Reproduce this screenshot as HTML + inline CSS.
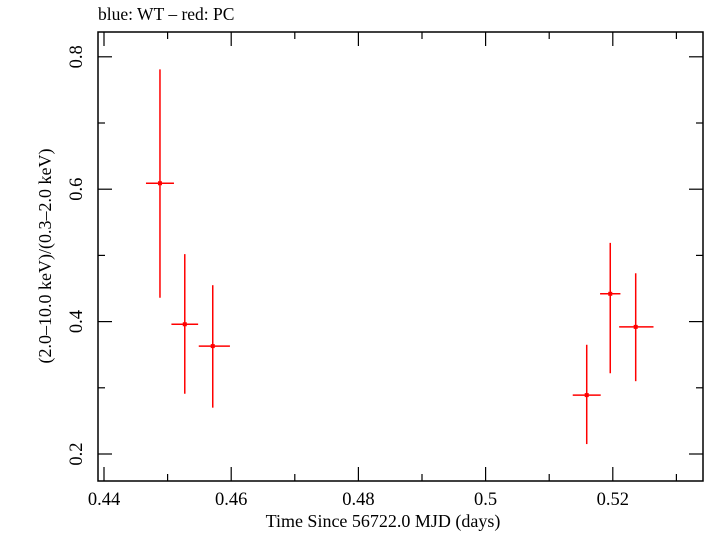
<!DOCTYPE html>
<html><head><meta charset="utf-8"><style>
html,body{margin:0;padding:0;background:#fff;}
svg text{font-family:"Liberation Serif",serif;fill:#000;}
</style></head><body>
<svg id="chart" width="705" height="532" xmlns="http://www.w3.org/2000/svg">
<text x="98" y="20" font-size="17.5">blue: WT – red: PC</text>
<rect x="98" y="32" width="605" height="449" fill="none" stroke="#000" stroke-width="1.5"/>
<g id="axes"></g>
<g id="marks"></g>
<text x="383" y="527" font-size="18" text-anchor="middle">Time Since 56722.0 MJD (days)</text>
<text transform="translate(51,256) rotate(-90)" font-size="18" text-anchor="middle">(2.0–10.0 keV)/(0.3–2.0 keV)</text>
</svg>
<script>
const times=[0.4488,0.4527,0.4571,0.5159,0.5196,0.5236];
const timeErrLo=[0.0022,0.0021,0.0022,0.0022,0.0016,0.0026];
const timeErrHi=[0.0022,0.0021,0.0027,0.0022,0.0016,0.0028];
const ratios=[0.609,0.396,0.363,0.289,0.442,0.392];
const ratioLo=[0.436,0.291,0.270,0.215,0.322,0.310];
const ratioHi=[0.781,0.502,0.455,0.365,0.519,0.473];
const xTicks=[0.44,0.46,0.48,0.5,0.52];
const xTickLabels=["0.44","0.46","0.48","0.5","0.52"];
const yTicks=[0.2,0.4,0.6,0.8];
const yTickLabels=["0.2","0.4","0.6","0.8"];
const X=v=>104+(v-0.44)*6360;
const Y=v=>454-(v-0.2)*662;
const NS="http://www.w3.org/2000/svg";
function mk(tag,attrs,parent){const e=document.createElementNS(NS,tag);for(const k in attrs)e.setAttribute(k,attrs[k]);parent.appendChild(e);return e;}
const ax=document.getElementById('axes'),mg=document.getElementById('marks');
const L=98,R=703,T=32,B=481;
for(let v=0.44;v<=0.5351;v+=0.01){const x=X(v);const major=xTicks.some(t=>Math.abs(t-v)<1e-6);const len=major?14:7;
 const t1=mk('line',{x1:x,x2:x,y1:B,y2:B-len,stroke:'#000','stroke-width':1.2},ax);
 
 
 const t2=mk('line',{x1:x,x2:x,y1:T,y2:T+len,stroke:'#000','stroke-width':1.2},ax);
 
 }
xTicks.forEach((v,i)=>{const t=mk('text',{x:X(v),y:505,'font-size':18.5,'text-anchor':'middle'},ax);t.textContent=xTickLabels[i];
 
 });
for(let v=0.2;v<=0.8501;v+=0.1){const y=Y(v);const major=yTicks.some(t=>Math.abs(t-v)<1e-6);const len=major?14:7;
 const t1=mk('line',{x1:L,x2:L+len,y1:y,y2:y,stroke:'#000','stroke-width':1.2},ax);
 
 
 const t2=mk('line',{x1:R,x2:R-len,y1:y,y2:y,stroke:'#000','stroke-width':1.2},ax);
 
 }
yTicks.forEach((v,i)=>{const t=mk('text',{transform:`translate(82,${Y(v)}) rotate(-90)`,'font-size':18.5,'text-anchor':'middle'},ax);t.textContent=yTickLabels[i];
 
 });
times.forEach((t,i)=>{const g=mk('g',{},mg);
 
 
 mk('line',{x1:X(t),x2:X(t),y1:Y(ratioHi[i]),y2:Y(ratioLo[i]),stroke:'#f00','stroke-width':1.5},g);
 mk('line',{x1:X(t-timeErrLo[i]),x2:X(t+timeErrHi[i]),y1:Y(ratios[i]),y2:Y(ratios[i]),stroke:'#f00','stroke-width':1.5},g);
 mk('rect',{x:X(t)-2,y:Y(ratios[i])-2,width:4,height:4,fill:'#f00'},g);});
</script>
</body></html>
